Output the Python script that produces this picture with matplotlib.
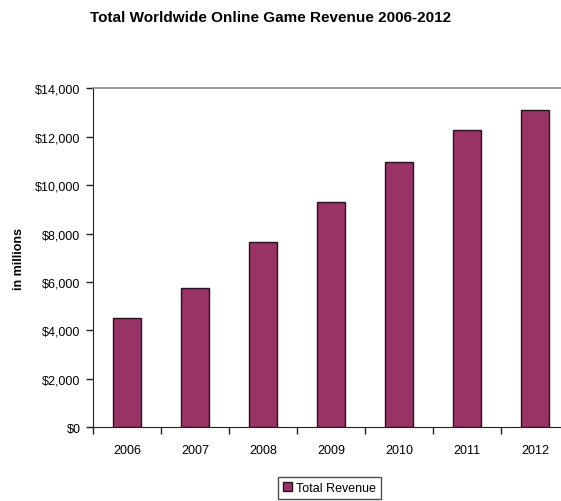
#!/usr/bin/env python3

#
# Total worldwide online game revenue, Excel-style column chart.
#

import matplotlib as mpl

mpl.use('Agg')
import matplotlib.pyplot as plt
from matplotlib.ticker import FuncFormatter, FixedLocator

# data (in millions of dollars)
years = ['2006', '2007', '2008', '2009', '2010', '2011', '2012']
revenue = [4500, 5750, 7650, 9300, 10970, 12270, 13100]
series_name = 'Total Revenue'

plt.rcParams['font.family'] = ['Liberation Sans', 'DejaVu Sans']

figure = plt.figure(figsize=(5.61, 5.02), dpi=100)
ax = figure.add_axes([0.1658, 0.1468, 0.8485, 0.6754])

positions = range(len(years))
ax.bar(positions, revenue, width=0.41, color='#993366', edgecolor='#2a1020',
       linewidth=1.0, label=series_name)

ax.set_xlim(-0.5, len(years) - 0.5)
ax.set_ylim(0, 14000)
ax.set_yticks(range(0, 14001, 2000))
ax.yaxis.set_major_formatter(FuncFormatter(lambda v, pos: '${:,.0f}'.format(v)))

# category labels centred, tick marks between categories
ax.set_xticks(list(positions))
ax.set_xticklabels(years)
ax.xaxis.set_minor_locator(FixedLocator([p - 0.5 for p in range(len(years) + 1)]))
ax.tick_params(axis='x', which='major', length=0, pad=12, labelsize=9)
ax.tick_params(axis='x', which='minor', length=5, width=1, color='#222222', direction='out')
ax.tick_params(axis='y', length=5, width=1, color='#222222', direction='out', pad=4, labelsize=9)

ax.spines['right'].set_visible(False)
ax.spines['top'].set_color('#8a8a7c')
ax.spines['top'].set_linewidth(1.2)
ax.spines['left'].set_color('#222222')
ax.spines['bottom'].set_color('#222222')

ax.set_ylabel('in millions', fontsize=9, fontweight='bold', labelpad=7)

figure.text(0.483, 0.965, 'Total Worldwide Online Game Revenue 2006-2012',
            ha='center', va='center', fontsize=11, fontweight='bold')

legend = ax.legend(loc='center', bbox_to_anchor=(329.6 / 561, 1 - 489 / 502),
                   bbox_transform=figure.transFigure, fontsize=9, frameon=True,
                   fancybox=False, handlelength=0.7, handleheight=0.7,
                   handletextpad=0.3, borderpad=0.4)
legend.get_frame().set_edgecolor('#222222')
legend.get_frame().set_linewidth(1.0)

figure.savefig('out.png', dpi=100)
plt.close(figure)
